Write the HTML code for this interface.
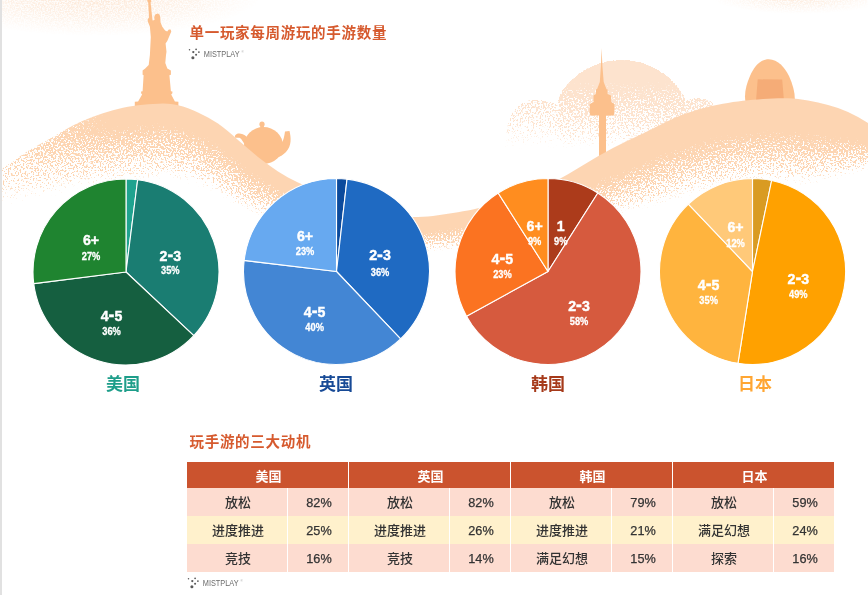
<!DOCTYPE html>
<html lang="zh-CN">
<head>
<meta charset="utf-8">
<title>单一玩家每周游玩的手游数量</title>
<style>
html,body{margin:0;padding:0;background:#fff;}
body{width:868px;height:595px;position:relative;overflow:hidden;font-family:"Liberation Sans","Noto Sans CJK SC",sans-serif;}
#bg{position:absolute;left:0;top:0;}
.bar{position:absolute;left:0;top:0;width:2px;height:595px;background:#e1e1e1;}
h1,h2{position:absolute;margin:0;font-family:"Liberation Sans","Noto Sans CJK SC",sans-serif;font-weight:700;font-size:14.5px;line-height:20px;color:#D65A2E;white-space:nowrap;letter-spacing:0.7px;}
h1{left:189.5px;top:23.4px;}
h2{left:189.5px;top:431.5px;}
.logo{position:absolute;height:16px;width:60px;}
.cn{position:absolute;width:80px;text-align:center;font-family:"Liberation Sans","Noto Sans CJK SC",sans-serif;font-weight:700;font-size:17px;line-height:24px;}
table{position:absolute;left:186px;top:462px;border-collapse:separate;border-spacing:0;table-layout:fixed;width:648px;font-family:"Liberation Sans","Noto Sans CJK SC",sans-serif;}
th{background:#CB532E;color:#fff;font-weight:700;font-size:13px;height:26px;padding:0 0 0 2px;border-left:1px solid #fff;}
td{height:26px;padding:.5px 0 1.5px;text-align:center;font-size:13px;font-weight:500;color:#333;border-left:1px solid #fff;}
td.k{width:100px;padding-left:2px;}
td.v{width:60px;font-size:12.7px;-webkit-text-stroke:.25px #333;padding:2.5px 0 0 2px;height:25.5px;}
tr.r0 td,tr.r2 td{background:#FDDCD0;}
tr.r1 td{background:#FFF1CC;}
</style>
</head>
<body>
<svg id="bg" width="868" height="595" viewBox="0 0 868 595">
<defs>
<filter id="gh" filterUnits="userSpaceOnUse" x="0" y="0" width="868" height="420" color-interpolation-filters="sRGB">
<feGaussianBlur in="SourceAlpha" stdDeviation="1.5" result="bl"/>
<feTurbulence type="fractalNoise" baseFrequency="0.6" numOctaves="2" seed="3" result="tn"/>
<feComponentTransfer in="tn" result="na"><feFuncA type="table" tableValues="0 0 0 0.002 0.006 0.017 0.045 0.102 0.198 0.336 0.5 0.664 0.802 0.898 0.955 0.983 0.994 0.998 1 1 1"/></feComponentTransfer>
<feComposite in="bl" in2="na" operator="arithmetic" k1="0" k2="1.2" k3="1" k4="-1" result="sum"/>
<feComponentTransfer in="sum" result="th0"><feFuncA type="linear" slope="5" intercept="0"/></feComponentTransfer>
<feGaussianBlur in="th0" stdDeviation="0.5" result="th"/>
<feFlood flood-color="#FDD5B2"/>
<feComposite in2="th" operator="in"/>
</filter>
<filter id="gc" filterUnits="userSpaceOnUse" x="0" y="0" width="868" height="420" color-interpolation-filters="sRGB">
<feGaussianBlur in="SourceAlpha" stdDeviation="0.6" result="bl"/>
<feTurbulence type="fractalNoise" baseFrequency="0.6" numOctaves="2" seed="7" result="tn"/>
<feComponentTransfer in="tn" result="na"><feFuncA type="table" tableValues="0 0 0 0.002 0.006 0.017 0.045 0.102 0.198 0.336 0.5 0.664 0.802 0.898 0.955 0.983 0.994 0.998 1 1 1"/></feComponentTransfer>
<feComposite in="bl" in2="na" operator="arithmetic" k1="0" k2="1.2" k3="1" k4="-1" result="sum"/>
<feComponentTransfer in="sum" result="th0"><feFuncA type="linear" slope="5" intercept="0"/></feComponentTransfer>
<feGaussianBlur in="th0" stdDeviation="0.5" result="th"/>
<feFlood flood-color="#FDE3CE"/>
<feComposite in2="th" operator="in"/>
</filter>
<filter id="gs" filterUnits="userSpaceOnUse" x="0" y="0" width="868" height="60" color-interpolation-filters="sRGB">
<feTurbulence type="fractalNoise" baseFrequency="0.7" numOctaves="2" seed="11" result="tn"/>
<feComponentTransfer in="tn" result="na"><feFuncA type="table" tableValues="0 0 0 0.002 0.006 0.017 0.045 0.102 0.198 0.336 0.5 0.664 0.802 0.898 0.955 0.983 0.994 0.998 1 1 1"/></feComponentTransfer>
<feComposite in="SourceAlpha" in2="na" operator="arithmetic" k1="1.7" k2="0.15" k3="0" k4="0" result="th"/>
<feFlood flood-color="#FBD3B2"/>
<feComposite in2="th" operator="in"/>
</filter>
<clipPath id="rc"><path d="M-12 178.0L-7 175.0L-2 171.7L3 168.3L8 164.8L13 161.2L18 157.7L23 154.3L28 151.1L33 148.1L38 145.3L43 142.5L48 139.7L53 136.9L58 134.0L63 131.1L68 128.2L73 125.5L78 123.0L83 120.8L88 118.7L93 116.8L98 115.0L103 113.3L108 111.8L113 110.3L118 109.0L123 107.8L128 106.8L133 106.0L138 105.3L143 104.7L148 104.3L153 103.9L158 103.7L163 103.6L168 103.8L173 104.3L178 105.2L183 106.6L188 108.3L193 110.3L198 112.6L203 115.0L208 117.5L213 120.4L218 123.6L223 127.3L228 131.3L233 135.6L238 139.9L243 144.2L248 148.5L253 152.8L258 156.9L263 160.8L268 164.6L273 168.1L278 171.5L283 174.6L288 177.4L293 180.0L298 182.4L303 184.7L308 186.7L313 188.6L318 190.5L323 192.2L328 194.0L333 195.6L338 197.3L343 199.0L348 200.7L353 202.4L358 204.1L363 205.8L368 207.4L373 209.0L378 210.4L383 211.8L388 213.1L393 214.2L398 215.2L403 216.0L408 216.6L413 216.9L418 217.0L423 216.8L428 216.5L433 215.9L438 215.3L443 214.6L448 213.8L453 213.1L458 212.2L463 211.3L468 210.4L473 209.4L478 208.3L483 207.2L488 206.0L493 204.7L498 203.3L503 201.8L508 200.3L513 198.7L518 197.0L523 195.2L528 193.3L533 191.3L538 189.2L543 187.0L548 184.7L553 182.3L558 179.7L563 177.0L568 174.2L573 171.3L578 168.3L583 165.2L588 162.2L593 159.2L598 156.3L603 153.4L608 150.7L613 148.1L618 145.6L623 143.1L628 140.6L633 138.2L638 135.8L643 133.4L648 131.0L653 128.5L658 126.0L663 123.5L668 121.1L673 118.7L678 116.6L683 114.6L688 112.8L693 111.2L698 109.6L703 108.3L708 107.0L713 105.8L718 104.8L723 103.8L728 102.9L733 102.1L738 101.4L743 100.8L748 100.3L753 99.8L758 99.4L763 99.0L768 98.7L773 98.4L778 98.3L783 98.2L788 98.3L793 98.6L798 99.1L803 99.8L808 100.6L813 101.5L818 102.5L823 103.7L828 105.0L833 106.4L838 108.1L843 109.9L848 112.0L853 114.4L858 117.1L863 120.0L868 123.0L873 126.2L882 132.0L882 420L-12 420Z"/></clipPath>
<linearGradient id="lf" gradientUnits="userSpaceOnUse" x1="0" y1="0" x2="110" y2="0"><stop offset="0" stop-color="#fff" stop-opacity=".32"/><stop offset="1" stop-color="#fff" stop-opacity="1"/></linearGradient>
<mask id="lm" maskUnits="userSpaceOnUse" x="-20" y="0" width="920" height="420"><rect x="-20" y="0" width="920" height="420" fill="url(#lf)"/></mask>
<linearGradient id="cg" gradientUnits="userSpaceOnUse" x1="0" y1="50" x2="0" y2="150"><stop offset="0" stop-color="#fff"/><stop offset=".3" stop-color="#fff"/><stop offset="1" stop-color="#fff" stop-opacity="0"/></linearGradient>
<mask id="cm" maskUnits="userSpaceOnUse" x="480" y="40" width="260" height="130"><rect x="480" y="40" width="260" height="130" fill="url(#cg)"/></mask>
<radialGradient id="tg" gradientUnits="userSpaceOnUse" cx="0" cy="0" r="1" gradientTransform="translate(95 -6) scale(168 42)"><stop offset="0" stop-color="#000" stop-opacity=".32"/><stop offset=".5" stop-color="#000" stop-opacity=".2"/><stop offset="1" stop-color="#000" stop-opacity="0"/></radialGradient>
<radialGradient id="tg2" gradientUnits="userSpaceOnUse" cx="0" cy="0" r="1" gradientTransform="translate(800 -4) scale(90 18)"><stop offset="0" stop-color="#000" stop-opacity=".3"/><stop offset="1" stop-color="#000" stop-opacity="0"/></radialGradient>
</defs>
<g filter="url(#gc)">
<g mask="url(#cm)"><path d="M558 150L558 106C558 101 559 97 560.5 93.5A72 72 0 0 1 682 93C684 96 685 99 685.5 101L690 150Z"/><path d="M505 150C505 118 515 100 536 100C546 100 553 102 558 106L558 150Z" fill-opacity=".68"/><path d="M685.5 101C692 97 704 97 712 102L725 150L688 150Z" fill-opacity=".8"/></g>
</g>
<g filter="url(#gs)">
<rect x="0" y="0" width="280" height="44" fill="url(#tg)"/>
<rect x="700" y="0" width="168" height="20" fill="url(#tg2)"/>
</g>
<g fill="#FCC08C">
<path d="M147.2 0L147.5 1.6L148.2 2.6L149 17.5L147.6 19.5L147.8 21.5L149.9 26.8L150.8 37L149.9 55L148.7 65L145.2 68.6L142.6 70.5L142.6 74.7L143.6 75.2L142.6 91.3L141.1 91.5L141.1 93.3L142.1 94.4L138.1 101.4L134.8 101.8L134.8 106L178.4 106L178.4 101.8L174.9 101.4L171.2 94.4L172.4 93.3L172.4 91.5L170.9 91.3L169.4 75.2L170.9 74.7L170.9 70.5L167.3 68.6L165.3 63L166 55L166.5 51.8L165.6 43.4L167.4 40.7L171.3 31.6L170.6 29.6L168.8 29.4L167.2 31.5L165.1 30.5L162.3 26.8L160.5 22.2L160.3 17L159.5 14.5L157.5 13.6L155.2 14.5L154.2 17L154.5 20L152.6 20.5L152.2 17.5L150.6 2.6L151.4 1.4L151 0Z"/>
<circle cx="262" cy="124.2" r="2.6"/><rect x="260.3" y="125" width="3.6" height="3"/><ellipse cx="263.5" cy="145.5" rx="19.5" ry="18.5"/><path d="M247 137C240 131 234 134 235 137.5C236 138.5 238 137 240 138C242 139.5 243 142 245 145Z"/><path d="M278 146C283 144 284 138 285 131.5L289.5 131C291 137 292 146 286 152C283 155 280 157 276 158Z"/>
<path d="M601.6 48L602.4 66L603.7 82L606.5 89.3L607.5 89.3L607.5 94L611 95.5L611.2 102L614.4 104L614.4 113Q614.4 115.5 612 115.5L606 115.5L606 158L599 158L599 115.5L592 115.5Q589.7 115.5 589.7 113L589.7 104L593.5 102L593.5 95.5L596 94L596 89.3L597 89.3L599.8 82L600.9 66Z"/>
<path d="M745.4 101C744 93 746.5 84 750 76C754 67 760 59.3 768.8 59.3C778 59.3 785 68 789 76C793 85 795.2 93 794.8 101Z"/><path d="M757.7 79.3L782.2 79.6L784 101L756 101Z" fill="#F5AC77"/>
</g>
<g clip-path="url(#rc)"><g filter="url(#gh)"><g mask="url(#lm)">
<path d="M-12 174.0L-7 171.0L-2 167.7L3 164.3L8 160.8L13 157.2L18 153.7L23 150.3L28 147.1L33 144.1L38 141.3L43 138.5L48 135.7L53 132.9L58 130.0L63 127.1L68 124.2L73 121.5L78 119.0L83 116.8L88 114.7L93 112.8L98 111.0L103 109.3L108 107.8L113 106.3L118 105.0L123 103.8L128 102.8L133 102.0L138 101.3L143 100.7L148 100.3L153 99.9L158 99.7L163 99.6L168 99.8L173 100.3L178 101.2L183 102.6L188 104.3L193 106.3L198 108.6L203 111.0L208 113.5L213 116.4L218 119.6L223 123.3L228 127.3L233 131.6L238 135.9L243 140.2L248 144.5L253 148.8L258 152.9L263 156.8L268 160.6L273 164.1L278 167.5L283 170.6L288 173.4L293 176.0L298 178.4L303 180.7L308 182.7L313 184.6L318 186.5L323 188.2L328 190.0L333 191.6L338 193.3L343 195.0L348 196.7L353 198.4L358 200.1L363 201.8L368 203.4L373 205.0L378 206.4L383 207.8L388 209.1L393 210.2L398 211.2L403 212.0L408 212.6L413 212.9L418 213.0L423 212.8L428 212.5L433 211.9L438 211.3L443 210.6L448 209.8L453 209.1L458 208.2L463 207.3L468 206.4L473 205.4L478 204.3L483 203.2L488 202.0L493 200.7L498 199.3L503 197.8L508 196.3L513 194.7L518 193.0L523 191.2L528 189.3L533 187.3L538 185.2L543 183.0L548 180.7L553 178.3L558 175.7L563 173.0L568 170.2L573 167.3L578 164.3L583 161.2L588 158.2L593 155.2L598 152.3L603 149.4L608 146.7L613 144.1L618 141.6L623 139.1L628 136.6L633 134.2L638 131.8L643 129.4L648 127.0L653 124.5L658 122.0L663 119.5L668 117.1L673 114.7L678 112.6L683 110.6L688 108.8L693 107.2L698 105.6L703 104.3L708 103.0L713 101.8L718 100.8L723 99.8L728 98.9L733 98.1L738 97.4L743 96.8L748 96.3L753 95.8L758 95.4L763 95.0L768 94.7L773 94.4L778 94.3L783 94.2L788 94.3L793 94.6L798 95.1L803 95.8L808 96.6L813 97.5L818 98.5L823 99.7L828 101.0L833 102.4L838 104.1L843 105.9L848 108.0L853 110.4L858 113.1L863 116.0L868 119.0L873 122.2L882 128.0L882 172.0L873 171.1L868 171.0L863 171.4L858 172.4L853 173.8L848 175.5L843 177.1L838 178.5L833 179.4L828 180.4L823 181.5L818 182.6L813 183.5L808 184.2L803 184.4L798 184.1L793 183.6L788 183.3L783 183.2L778 183.2L773 183.4L768 183.6L763 183.9L758 184.2L753 184.6L748 185.0L743 185.5L738 186.1L733 186.7L728 187.4L723 188.2L718 189.1L713 190.1L708 191.2L703 192.3L698 193.6L693 194.9L688 196.1L683 197.4L678 198.8L673 200.2L668 201.7L663 203.3L658 204.8L653 206.3L648 207.7L643 209.0L638 210.2L633 211.4L628 212.7L623 213.9L618 215.2L613 216.6L608 218.2L603 219.8L598 221.7L593 223.6L588 225.6L583 227.5L578 229.5L573 231.4L568 233.2L563 235.0L558 236.5L553 238.0L548 239.3L543 240.5L538 241.6L533 242.6L528 243.5L523 244.3L518 244.9L513 245.3L508 245.6L503 245.8L498 246.0L493 246.2L488 246.4L483 246.6L478 247.0L473 247.5L468 248.0L463 248.6L458 249.1L453 249.5L448 250.0L443 250.4L438 250.8L433 251.2L428 251.6L423 251.9L418 252.0L413 251.9L408 251.6L403 251.1L398 250.3L393 249.4L388 248.4L383 247.2L378 245.9L373 244.6L368 243.2L363 241.7L358 240.2L353 238.7L348 237.3L343 235.9L338 234.6L333 233.4L328 232.2L323 231.1L318 229.9L313 228.8L308 227.5L303 226.2L298 224.8L293 223.6L288 222.5L283 221.4L278 220.4L273 219.3L268 218.1L263 216.7L258 215.2L253 213.3L248 211.2L243 208.8L238 206.0L233 203.0L228 199.6L223 196.4L218 193.5L213 191.0L208 188.9L203 187.0L198 185.3L193 183.7L188 182.2L183 181.0L178 180.1L173 179.6L168 179.4L163 179.4L158 179.6L153 179.9L148 180.2L143 180.4L138 180.6L133 180.8L128 181.1L123 181.4L118 181.9L113 182.4L108 183.1L103 183.8L98 184.7L93 185.6L88 186.5L83 187.5L78 188.6L73 189.8L68 191.2L63 192.7L58 194.2L53 195.7L48 197.1L43 198.2L38 199.1L33 200.0L28 200.9L23 202.0L18 203.4L13 205.0L8 206.9L3 209.0L-2 211.3L-7 213.7L-12 216.0Z" fill-opacity="0.071"/>
<path d="M-12 174.0L-7 171.0L-2 167.7L3 164.3L8 160.8L13 157.2L18 153.7L23 150.3L28 147.1L33 144.1L38 141.3L43 138.5L48 135.7L53 132.9L58 130.0L63 127.1L68 124.2L73 121.5L78 119.0L83 116.8L88 114.7L93 112.8L98 111.0L103 109.3L108 107.8L113 106.3L118 105.0L123 103.8L128 102.8L133 102.0L138 101.3L143 100.7L148 100.3L153 99.9L158 99.7L163 99.6L168 99.8L173 100.3L178 101.2L183 102.6L188 104.3L193 106.3L198 108.6L203 111.0L208 113.5L213 116.4L218 119.6L223 123.3L228 127.3L233 131.6L238 135.9L243 140.2L248 144.5L253 148.8L258 152.9L263 156.8L268 160.6L273 164.1L278 167.5L283 170.6L288 173.4L293 176.0L298 178.4L303 180.7L308 182.7L313 184.6L318 186.5L323 188.2L328 190.0L333 191.6L338 193.3L343 195.0L348 196.7L353 198.4L358 200.1L363 201.8L368 203.4L373 205.0L378 206.4L383 207.8L388 209.1L393 210.2L398 211.2L403 212.0L408 212.6L413 212.9L418 213.0L423 212.8L428 212.5L433 211.9L438 211.3L443 210.6L448 209.8L453 209.1L458 208.2L463 207.3L468 206.4L473 205.4L478 204.3L483 203.2L488 202.0L493 200.7L498 199.3L503 197.8L508 196.3L513 194.7L518 193.0L523 191.2L528 189.3L533 187.3L538 185.2L543 183.0L548 180.7L553 178.3L558 175.7L563 173.0L568 170.2L573 167.3L578 164.3L583 161.2L588 158.2L593 155.2L598 152.3L603 149.4L608 146.7L613 144.1L618 141.6L623 139.1L628 136.6L633 134.2L638 131.8L643 129.4L648 127.0L653 124.5L658 122.0L663 119.5L668 117.1L673 114.7L678 112.6L683 110.6L688 108.8L693 107.2L698 105.6L703 104.3L708 103.0L713 101.8L718 100.8L723 99.8L728 98.9L733 98.1L738 97.4L743 96.8L748 96.3L753 95.8L758 95.4L763 95.0L768 94.7L773 94.4L778 94.3L783 94.2L788 94.3L793 94.6L798 95.1L803 95.8L808 96.6L813 97.5L818 98.5L823 99.7L828 101.0L833 102.4L838 104.1L843 105.9L848 108.0L853 110.4L858 113.1L863 116.0L868 119.0L873 122.2L882 128.0L882 170.1L873 169.0L868 168.8L863 169.0L858 169.9L853 171.1L848 172.6L843 174.1L838 175.3L833 176.1L828 176.9L823 177.9L818 178.9L813 179.7L808 180.2L803 180.4L798 180.1L793 179.6L788 179.3L783 179.2L778 179.2L773 179.4L768 179.6L763 179.9L758 180.2L753 180.6L748 181.0L743 181.5L738 182.1L733 182.7L728 183.4L723 184.2L718 185.1L713 186.1L708 187.2L703 188.3L698 189.6L693 190.9L688 192.2L683 193.5L678 194.9L673 196.4L668 197.9L663 199.5L658 201.0L653 202.5L648 204.0L643 205.4L638 206.7L633 207.9L628 209.2L623 210.5L618 211.9L613 213.4L608 215.0L603 216.7L598 218.6L593 220.5L588 222.5L583 224.6L578 226.6L573 228.5L568 230.4L563 232.2L558 233.8L553 235.4L548 236.7L543 238.0L538 239.2L533 240.2L528 241.2L523 242.0L518 242.6L513 243.1L508 243.5L503 243.8L498 244.1L493 244.3L488 244.5L483 244.9L478 245.2L473 245.8L468 246.4L463 246.9L458 247.4L453 247.9L448 248.3L443 248.8L438 249.2L433 249.7L428 250.0L423 250.3L418 250.4L413 250.3L408 250.0L403 249.5L398 248.7L393 247.8L388 246.7L383 245.6L378 244.3L373 242.9L368 241.5L363 240.0L358 238.5L353 237.0L348 235.5L343 234.1L338 232.8L333 231.6L328 230.4L323 229.2L318 228.0L313 226.7L308 225.5L303 224.1L298 222.6L293 221.3L288 220.1L283 219.0L278 217.8L273 216.6L268 215.3L263 213.8L258 212.1L253 210.2L248 207.9L243 205.4L238 202.6L233 199.5L228 196.0L223 192.7L218 189.8L213 187.3L208 185.1L203 183.2L198 181.4L193 179.7L188 178.2L183 176.9L178 175.9L173 175.4L168 175.1L163 175.2L158 175.4L153 175.7L148 175.9L143 176.2L138 176.3L133 176.6L128 176.8L123 177.2L118 177.6L113 178.2L108 178.9L103 179.7L98 180.6L93 181.5L88 182.4L83 183.4L78 184.5L73 185.8L68 187.2L63 188.7L58 190.3L53 191.8L48 193.3L43 194.5L38 195.5L33 196.4L28 197.4L23 198.7L18 200.2L13 201.9L8 203.9L3 206.1L-2 208.5L-7 210.9L-12 213.3Z" fill-opacity="0.077"/>
<path d="M-12 174.0L-7 171.0L-2 167.7L3 164.3L8 160.8L13 157.2L18 153.7L23 150.3L28 147.1L33 144.1L38 141.3L43 138.5L48 135.7L53 132.9L58 130.0L63 127.1L68 124.2L73 121.5L78 119.0L83 116.8L88 114.7L93 112.8L98 111.0L103 109.3L108 107.8L113 106.3L118 105.0L123 103.8L128 102.8L133 102.0L138 101.3L143 100.7L148 100.3L153 99.9L158 99.7L163 99.6L168 99.8L173 100.3L178 101.2L183 102.6L188 104.3L193 106.3L198 108.6L203 111.0L208 113.5L213 116.4L218 119.6L223 123.3L228 127.3L233 131.6L238 135.9L243 140.2L248 144.5L253 148.8L258 152.9L263 156.8L268 160.6L273 164.1L278 167.5L283 170.6L288 173.4L293 176.0L298 178.4L303 180.7L308 182.7L313 184.6L318 186.5L323 188.2L328 190.0L333 191.6L338 193.3L343 195.0L348 196.7L353 198.4L358 200.1L363 201.8L368 203.4L373 205.0L378 206.4L383 207.8L388 209.1L393 210.2L398 211.2L403 212.0L408 212.6L413 212.9L418 213.0L423 212.8L428 212.5L433 211.9L438 211.3L443 210.6L448 209.8L453 209.1L458 208.2L463 207.3L468 206.4L473 205.4L478 204.3L483 203.2L488 202.0L493 200.7L498 199.3L503 197.8L508 196.3L513 194.7L518 193.0L523 191.2L528 189.3L533 187.3L538 185.2L543 183.0L548 180.7L553 178.3L558 175.7L563 173.0L568 170.2L573 167.3L578 164.3L583 161.2L588 158.2L593 155.2L598 152.3L603 149.4L608 146.7L613 144.1L618 141.6L623 139.1L628 136.6L633 134.2L638 131.8L643 129.4L648 127.0L653 124.5L658 122.0L663 119.5L668 117.1L673 114.7L678 112.6L683 110.6L688 108.8L693 107.2L698 105.6L703 104.3L708 103.0L713 101.8L718 100.8L723 99.8L728 98.9L733 98.1L738 97.4L743 96.8L748 96.3L753 95.8L758 95.4L763 95.0L768 94.7L773 94.4L778 94.3L783 94.2L788 94.3L793 94.6L798 95.1L803 95.8L808 96.6L813 97.5L818 98.5L823 99.7L828 101.0L833 102.4L838 104.1L843 105.9L848 108.0L853 110.4L858 113.1L863 116.0L868 119.0L873 122.2L882 128.0L882 168.3L873 167.0L868 166.6L863 166.7L858 167.4L853 168.4L848 169.7L843 171.0L838 172.1L833 172.7L828 173.5L823 174.3L818 175.2L813 175.9L808 176.3L803 176.4L798 176.1L793 175.6L788 175.3L783 175.2L778 175.2L773 175.4L768 175.6L763 175.9L758 176.2L753 176.6L748 177.0L743 177.5L738 178.1L733 178.7L728 179.4L723 180.2L718 181.1L713 182.1L708 183.2L703 184.3L698 185.6L693 186.9L688 188.2L683 189.5L678 191.0L673 192.5L668 194.0L663 195.6L658 197.3L653 198.8L648 200.3L643 201.7L638 203.1L633 204.4L628 205.8L623 207.2L618 208.6L613 210.1L608 211.7L603 213.5L598 215.5L593 217.5L588 219.5L583 221.6L578 223.7L573 225.7L568 227.6L563 229.4L558 231.1L553 232.7L548 234.1L543 235.5L538 236.7L533 237.8L528 238.8L523 239.7L518 240.4L513 241.0L508 241.4L503 241.8L498 242.1L493 242.4L488 242.7L483 243.1L478 243.5L473 244.0L468 244.7L463 245.2L458 245.8L453 246.2L448 246.7L443 247.2L438 247.6L433 248.1L428 248.5L423 248.7L418 248.9L413 248.8L408 248.4L403 247.9L398 247.1L393 246.2L388 245.1L383 243.9L378 242.6L373 241.2L368 239.8L363 238.3L358 236.8L353 235.2L348 233.8L343 232.4L338 231.0L333 229.7L328 228.5L323 227.2L318 226.0L313 224.7L308 223.4L303 222.0L298 220.5L293 219.1L288 217.8L283 216.6L278 215.3L273 214.0L268 212.5L263 210.9L258 209.1L253 207.0L248 204.7L243 202.0L238 199.1L233 195.9L228 192.4L223 189.1L218 186.1L213 183.5L208 181.3L203 179.3L198 177.4L193 175.7L188 174.1L183 172.8L178 171.8L173 171.2L168 170.9L163 170.9L158 171.1L153 171.4L148 171.6L143 171.9L138 172.1L133 172.3L128 172.6L123 172.9L118 173.4L113 174.0L108 174.7L103 175.5L98 176.4L93 177.3L88 178.3L83 179.3L78 180.4L73 181.8L68 183.2L63 184.8L58 186.3L53 187.9L48 189.4L43 190.7L38 191.8L33 192.9L28 194.0L23 195.4L18 197.0L13 198.8L8 200.9L3 203.2L-2 205.7L-7 208.2L-12 210.6Z" fill-opacity="0.083"/>
<path d="M-12 174.0L-7 171.0L-2 167.7L3 164.3L8 160.8L13 157.2L18 153.7L23 150.3L28 147.1L33 144.1L38 141.3L43 138.5L48 135.7L53 132.9L58 130.0L63 127.1L68 124.2L73 121.5L78 119.0L83 116.8L88 114.7L93 112.8L98 111.0L103 109.3L108 107.8L113 106.3L118 105.0L123 103.8L128 102.8L133 102.0L138 101.3L143 100.7L148 100.3L153 99.9L158 99.7L163 99.6L168 99.8L173 100.3L178 101.2L183 102.6L188 104.3L193 106.3L198 108.6L203 111.0L208 113.5L213 116.4L218 119.6L223 123.3L228 127.3L233 131.6L238 135.9L243 140.2L248 144.5L253 148.8L258 152.9L263 156.8L268 160.6L273 164.1L278 167.5L283 170.6L288 173.4L293 176.0L298 178.4L303 180.7L308 182.7L313 184.6L318 186.5L323 188.2L328 190.0L333 191.6L338 193.3L343 195.0L348 196.7L353 198.4L358 200.1L363 201.8L368 203.4L373 205.0L378 206.4L383 207.8L388 209.1L393 210.2L398 211.2L403 212.0L408 212.6L413 212.9L418 213.0L423 212.8L428 212.5L433 211.9L438 211.3L443 210.6L448 209.8L453 209.1L458 208.2L463 207.3L468 206.4L473 205.4L478 204.3L483 203.2L488 202.0L493 200.7L498 199.3L503 197.8L508 196.3L513 194.7L518 193.0L523 191.2L528 189.3L533 187.3L538 185.2L543 183.0L548 180.7L553 178.3L558 175.7L563 173.0L568 170.2L573 167.3L578 164.3L583 161.2L588 158.2L593 155.2L598 152.3L603 149.4L608 146.7L613 144.1L618 141.6L623 139.1L628 136.6L633 134.2L638 131.8L643 129.4L648 127.0L653 124.5L658 122.0L663 119.5L668 117.1L673 114.7L678 112.6L683 110.6L688 108.8L693 107.2L698 105.6L703 104.3L708 103.0L713 101.8L718 100.8L723 99.8L728 98.9L733 98.1L738 97.4L743 96.8L748 96.3L753 95.8L758 95.4L763 95.0L768 94.7L773 94.4L778 94.3L783 94.2L788 94.3L793 94.6L798 95.1L803 95.8L808 96.6L813 97.5L818 98.5L823 99.7L828 101.0L833 102.4L838 104.1L843 105.9L848 108.0L853 110.4L858 113.1L863 116.0L868 119.0L873 122.2L882 128.0L882 166.4L873 164.9L868 164.4L863 164.3L858 164.8L853 165.7L848 166.8L843 168.0L838 168.9L833 169.4L828 170.0L823 170.7L818 171.5L813 172.0L808 172.4L803 172.4L798 172.1L793 171.6L788 171.3L783 171.2L778 171.2L773 171.4L768 171.6L763 171.9L758 172.2L753 172.6L748 173.0L743 173.5L738 174.0L733 174.7L728 175.4L723 176.2L718 177.1L713 178.1L708 179.2L703 180.3L698 181.6L693 182.9L688 184.2L683 185.6L678 187.0L673 188.6L668 190.2L663 191.8L658 193.5L653 195.1L648 196.7L643 198.1L638 199.6L633 201.0L628 202.4L623 203.8L618 205.3L613 206.8L608 208.5L603 210.4L598 212.3L593 214.4L588 216.5L583 218.6L578 220.8L573 222.8L568 224.8L563 226.7L558 228.4L553 230.1L548 231.6L543 232.9L538 234.2L533 235.4L528 236.4L523 237.4L518 238.1L513 238.8L508 239.3L503 239.7L498 240.1L493 240.5L488 240.9L483 241.3L478 241.8L473 242.3L468 243.0L463 243.5L458 244.1L453 244.6L448 245.1L443 245.6L438 246.1L433 246.5L428 246.9L423 247.2L418 247.3L413 247.2L408 246.8L403 246.3L398 245.5L393 244.6L388 243.5L383 242.3L378 240.9L373 239.6L368 238.1L363 236.6L358 235.0L353 233.5L348 232.0L343 230.6L338 229.2L333 227.9L328 226.6L323 225.3L318 224.0L313 222.7L308 221.3L303 219.9L298 218.3L293 216.8L288 215.5L283 214.1L278 212.8L273 211.3L268 209.8L263 208.0L258 206.1L253 203.9L248 201.4L243 198.7L238 195.7L233 192.4L228 188.9L223 185.4L218 182.4L213 179.7L208 177.4L203 175.4L198 173.5L193 171.7L188 170.1L183 168.7L178 167.7L173 167.0L168 166.7L163 166.7L158 166.8L153 167.1L148 167.3L143 167.6L138 167.8L133 168.0L128 168.3L123 168.7L118 169.2L113 169.8L108 170.5L103 171.4L98 172.3L93 173.2L88 174.2L83 175.2L78 176.4L73 177.7L68 179.2L63 180.8L58 182.4L53 184.0L48 185.6L43 187.0L38 188.2L33 189.3L28 190.6L23 192.0L18 193.7L13 195.7L8 197.9L3 200.3L-2 202.8L-7 205.4L-12 207.9Z" fill-opacity="0.091"/>
<path d="M-12 174.0L-7 171.0L-2 167.7L3 164.3L8 160.8L13 157.2L18 153.7L23 150.3L28 147.1L33 144.1L38 141.3L43 138.5L48 135.7L53 132.9L58 130.0L63 127.1L68 124.2L73 121.5L78 119.0L83 116.8L88 114.7L93 112.8L98 111.0L103 109.3L108 107.8L113 106.3L118 105.0L123 103.8L128 102.8L133 102.0L138 101.3L143 100.7L148 100.3L153 99.9L158 99.7L163 99.6L168 99.8L173 100.3L178 101.2L183 102.6L188 104.3L193 106.3L198 108.6L203 111.0L208 113.5L213 116.4L218 119.6L223 123.3L228 127.3L233 131.6L238 135.9L243 140.2L248 144.5L253 148.8L258 152.9L263 156.8L268 160.6L273 164.1L278 167.5L283 170.6L288 173.4L293 176.0L298 178.4L303 180.7L308 182.7L313 184.6L318 186.5L323 188.2L328 190.0L333 191.6L338 193.3L343 195.0L348 196.7L353 198.4L358 200.1L363 201.8L368 203.4L373 205.0L378 206.4L383 207.8L388 209.1L393 210.2L398 211.2L403 212.0L408 212.6L413 212.9L418 213.0L423 212.8L428 212.5L433 211.9L438 211.3L443 210.6L448 209.8L453 209.1L458 208.2L463 207.3L468 206.4L473 205.4L478 204.3L483 203.2L488 202.0L493 200.7L498 199.3L503 197.8L508 196.3L513 194.7L518 193.0L523 191.2L528 189.3L533 187.3L538 185.2L543 183.0L548 180.7L553 178.3L558 175.7L563 173.0L568 170.2L573 167.3L578 164.3L583 161.2L588 158.2L593 155.2L598 152.3L603 149.4L608 146.7L613 144.1L618 141.6L623 139.1L628 136.6L633 134.2L638 131.8L643 129.4L648 127.0L653 124.5L658 122.0L663 119.5L668 117.1L673 114.7L678 112.6L683 110.6L688 108.8L693 107.2L698 105.6L703 104.3L708 103.0L713 101.8L718 100.8L723 99.8L728 98.9L733 98.1L738 97.4L743 96.8L748 96.3L753 95.8L758 95.4L763 95.0L768 94.7L773 94.4L778 94.3L783 94.2L788 94.3L793 94.6L798 95.1L803 95.8L808 96.6L813 97.5L818 98.5L823 99.7L828 101.0L833 102.4L838 104.1L843 105.9L848 108.0L853 110.4L858 113.1L863 116.0L868 119.0L873 122.2L882 128.0L882 164.6L873 162.8L868 162.1L863 161.9L858 162.3L853 163.0L848 163.9L843 164.9L838 165.7L833 166.1L828 166.5L823 167.1L818 167.7L813 168.2L808 168.5L803 168.5L798 168.1L793 167.6L788 167.3L783 167.2L778 167.2L773 167.4L768 167.6L763 167.9L758 168.2L753 168.6L748 169.0L743 169.5L738 170.0L733 170.7L728 171.4L723 172.2L718 173.1L713 174.1L708 175.2L703 176.3L698 177.6L693 178.9L688 180.2L683 181.6L678 183.1L673 184.7L668 186.3L663 188.0L658 189.7L653 191.4L648 193.0L643 194.5L638 196.0L633 197.5L628 198.9L623 200.4L618 201.9L613 203.6L608 205.3L603 207.2L598 209.2L593 211.3L588 213.5L583 215.7L578 217.8L573 220.0L568 222.0L563 223.9L558 225.7L553 227.4L548 229.0L543 230.4L538 231.7L533 232.9L528 234.1L523 235.1L518 235.9L513 236.6L508 237.2L503 237.7L498 238.2L493 238.6L488 239.0L483 239.5L478 240.0L473 240.6L468 241.3L463 241.9L458 242.4L453 243.0L448 243.5L443 244.0L438 244.5L433 244.9L428 245.3L423 245.6L418 245.7L413 245.6L408 245.2L403 244.7L398 243.9L393 242.9L388 241.8L383 240.6L378 239.3L373 237.9L368 236.4L363 234.9L358 233.3L353 231.8L348 230.3L343 228.8L338 227.4L333 226.0L328 224.7L323 223.4L318 222.1L313 220.7L308 219.3L303 217.8L298 216.1L293 214.6L288 213.1L283 211.7L278 210.2L273 208.7L268 207.0L263 205.1L258 203.0L253 200.7L248 198.1L243 195.3L238 192.2L233 188.9L228 185.3L223 181.8L218 178.6L213 176.0L208 173.6L203 171.5L198 169.5L193 167.7L188 166.0L183 164.6L178 163.5L173 162.9L168 162.5L163 162.4L158 162.6L153 162.8L148 163.1L143 163.3L138 163.5L133 163.7L128 164.0L123 164.4L118 165.0L113 165.6L108 166.4L103 167.2L98 168.1L93 169.1L88 170.1L83 171.1L78 172.3L73 173.7L68 175.2L63 176.8L58 178.5L53 180.1L48 181.8L43 183.2L38 184.5L33 185.8L28 187.1L23 188.7L18 190.5L13 192.6L8 194.9L3 197.4L-2 200.0L-7 202.6L-12 205.1Z" fill-opacity="0.100"/>
<path d="M-12 174.0L-7 171.0L-2 167.7L3 164.3L8 160.8L13 157.2L18 153.7L23 150.3L28 147.1L33 144.1L38 141.3L43 138.5L48 135.7L53 132.9L58 130.0L63 127.1L68 124.2L73 121.5L78 119.0L83 116.8L88 114.7L93 112.8L98 111.0L103 109.3L108 107.8L113 106.3L118 105.0L123 103.8L128 102.8L133 102.0L138 101.3L143 100.7L148 100.3L153 99.9L158 99.7L163 99.6L168 99.8L173 100.3L178 101.2L183 102.6L188 104.3L193 106.3L198 108.6L203 111.0L208 113.5L213 116.4L218 119.6L223 123.3L228 127.3L233 131.6L238 135.9L243 140.2L248 144.5L253 148.8L258 152.9L263 156.8L268 160.6L273 164.1L278 167.5L283 170.6L288 173.4L293 176.0L298 178.4L303 180.7L308 182.7L313 184.6L318 186.5L323 188.2L328 190.0L333 191.6L338 193.3L343 195.0L348 196.7L353 198.4L358 200.1L363 201.8L368 203.4L373 205.0L378 206.4L383 207.8L388 209.1L393 210.2L398 211.2L403 212.0L408 212.6L413 212.9L418 213.0L423 212.8L428 212.5L433 211.9L438 211.3L443 210.6L448 209.8L453 209.1L458 208.2L463 207.3L468 206.4L473 205.4L478 204.3L483 203.2L488 202.0L493 200.7L498 199.3L503 197.8L508 196.3L513 194.7L518 193.0L523 191.2L528 189.3L533 187.3L538 185.2L543 183.0L548 180.7L553 178.3L558 175.7L563 173.0L568 170.2L573 167.3L578 164.3L583 161.2L588 158.2L593 155.2L598 152.3L603 149.4L608 146.7L613 144.1L618 141.6L623 139.1L628 136.6L633 134.2L638 131.8L643 129.4L648 127.0L653 124.5L658 122.0L663 119.5L668 117.1L673 114.7L678 112.6L683 110.6L688 108.8L693 107.2L698 105.6L703 104.3L708 103.0L713 101.8L718 100.8L723 99.8L728 98.9L733 98.1L738 97.4L743 96.8L748 96.3L753 95.8L758 95.4L763 95.0L768 94.7L773 94.4L778 94.3L783 94.2L788 94.3L793 94.6L798 95.1L803 95.8L808 96.6L813 97.5L818 98.5L823 99.7L828 101.0L833 102.4L838 104.1L843 105.9L848 108.0L853 110.4L858 113.1L863 116.0L868 119.0L873 122.2L882 128.0L882 162.7L873 160.7L868 159.9L863 159.6L858 159.8L853 160.3L848 161.1L843 161.9L838 162.5L833 162.7L828 163.1L823 163.5L818 164.0L813 164.4L808 164.6L803 164.5L798 164.1L793 163.6L788 163.3L783 163.2L778 163.2L773 163.4L768 163.6L763 163.9L758 164.2L753 164.6L748 165.0L743 165.5L738 166.0L733 166.7L728 167.4L723 168.2L718 169.1L713 170.1L708 171.2L703 172.3L698 173.6L693 174.9L688 176.3L683 177.7L678 179.2L673 180.8L668 182.5L663 184.2L658 186.0L653 187.7L648 189.3L643 190.9L638 192.5L633 194.0L628 195.5L623 197.0L618 198.6L613 200.3L608 202.1L603 204.0L598 206.1L593 208.3L588 210.5L583 212.7L578 214.9L573 217.1L568 219.2L563 221.2L558 223.0L553 224.8L548 226.4L543 227.9L538 229.2L533 230.5L528 231.7L523 232.8L518 233.7L513 234.4L508 235.1L503 235.7L498 236.2L493 236.7L488 237.2L483 237.7L478 238.3L473 238.9L468 239.6L463 240.2L458 240.8L453 241.3L448 241.9L443 242.4L438 242.9L433 243.4L428 243.8L423 244.0L418 244.1L413 244.0L408 243.7L403 243.1L398 242.3L393 241.3L388 240.2L383 239.0L378 237.6L373 236.2L368 234.7L363 233.2L358 231.6L353 230.0L348 228.5L343 227.0L338 225.6L333 224.2L328 222.8L323 221.5L318 220.1L313 218.7L308 217.2L303 215.6L298 214.0L293 212.4L288 210.8L283 209.3L278 207.7L273 206.0L268 204.2L263 202.2L258 200.0L253 197.6L248 194.9L243 192.0L238 188.8L233 185.3L228 181.7L223 178.1L218 174.9L213 172.2L208 169.8L203 167.6L198 165.6L193 163.7L188 162.0L183 160.5L178 159.4L173 158.7L168 158.3L163 158.2L158 158.3L153 158.5L148 158.8L143 159.0L138 159.2L133 159.4L128 159.8L123 160.2L118 160.8L113 161.4L108 162.2L103 163.0L98 164.0L93 165.0L88 166.0L83 167.0L78 168.2L73 169.6L68 171.1L63 172.8L58 174.5L53 176.2L48 177.9L43 179.5L38 180.8L33 182.2L28 183.7L23 185.4L18 187.3L13 189.5L8 191.9L3 194.5L-2 197.2L-7 199.9L-12 202.4Z" fill-opacity="0.111"/>
<path d="M-12 174.0L-7 171.0L-2 167.7L3 164.3L8 160.8L13 157.2L18 153.7L23 150.3L28 147.1L33 144.1L38 141.3L43 138.5L48 135.7L53 132.9L58 130.0L63 127.1L68 124.2L73 121.5L78 119.0L83 116.8L88 114.7L93 112.8L98 111.0L103 109.3L108 107.8L113 106.3L118 105.0L123 103.8L128 102.8L133 102.0L138 101.3L143 100.7L148 100.3L153 99.9L158 99.7L163 99.6L168 99.8L173 100.3L178 101.2L183 102.6L188 104.3L193 106.3L198 108.6L203 111.0L208 113.5L213 116.4L218 119.6L223 123.3L228 127.3L233 131.6L238 135.9L243 140.2L248 144.5L253 148.8L258 152.9L263 156.8L268 160.6L273 164.1L278 167.5L283 170.6L288 173.4L293 176.0L298 178.4L303 180.7L308 182.7L313 184.6L318 186.5L323 188.2L328 190.0L333 191.6L338 193.3L343 195.0L348 196.7L353 198.4L358 200.1L363 201.8L368 203.4L373 205.0L378 206.4L383 207.8L388 209.1L393 210.2L398 211.2L403 212.0L408 212.6L413 212.9L418 213.0L423 212.8L428 212.5L433 211.9L438 211.3L443 210.6L448 209.8L453 209.1L458 208.2L463 207.3L468 206.4L473 205.4L478 204.3L483 203.2L488 202.0L493 200.7L498 199.3L503 197.8L508 196.3L513 194.7L518 193.0L523 191.2L528 189.3L533 187.3L538 185.2L543 183.0L548 180.7L553 178.3L558 175.7L563 173.0L568 170.2L573 167.3L578 164.3L583 161.2L588 158.2L593 155.2L598 152.3L603 149.4L608 146.7L613 144.1L618 141.6L623 139.1L628 136.6L633 134.2L638 131.8L643 129.4L648 127.0L653 124.5L658 122.0L663 119.5L668 117.1L673 114.7L678 112.6L683 110.6L688 108.8L693 107.2L698 105.6L703 104.3L708 103.0L713 101.8L718 100.8L723 99.8L728 98.9L733 98.1L738 97.4L743 96.8L748 96.3L753 95.8L758 95.4L763 95.0L768 94.7L773 94.4L778 94.3L783 94.2L788 94.3L793 94.6L798 95.1L803 95.8L808 96.6L813 97.5L818 98.5L823 99.7L828 101.0L833 102.4L838 104.1L843 105.9L848 108.0L853 110.4L858 113.1L863 116.0L868 119.0L873 122.2L882 128.0L882 160.9L873 158.7L868 157.7L863 157.2L858 157.2L853 157.6L848 158.2L843 158.8L838 159.3L833 159.4L828 159.6L823 159.9L818 160.3L813 160.5L808 160.6L803 160.5L798 160.1L793 159.6L788 159.3L783 159.2L778 159.2L773 159.3L768 159.6L763 159.9L758 160.2L753 160.6L748 161.0L743 161.5L738 162.0L733 162.7L728 163.4L723 164.2L718 165.1L713 166.1L708 167.2L703 168.3L698 169.6L693 170.9L688 172.3L683 173.7L678 175.2L673 176.9L668 178.6L663 180.4L658 182.2L653 184.0L648 185.7L643 187.3L638 188.9L633 190.5L628 192.0L623 193.6L618 195.3L613 197.0L608 198.9L603 200.9L598 203.0L593 205.2L588 207.5L583 209.7L578 212.0L573 214.2L568 216.4L563 218.4L558 220.3L553 222.1L548 223.8L543 225.3L538 226.8L533 228.1L528 229.3L523 230.4L518 231.4L513 232.2L508 233.0L503 233.6L498 234.2L493 234.8L488 235.3L483 235.9L478 236.5L473 237.2L468 237.9L463 238.5L458 239.1L453 239.7L448 240.3L443 240.8L438 241.3L433 241.8L428 242.2L423 242.5L418 242.6L413 242.4L408 242.1L403 241.5L398 240.7L393 239.7L388 238.6L383 237.3L378 235.9L373 234.5L368 233.0L363 231.5L358 229.9L353 228.3L348 226.8L343 225.2L338 223.8L333 222.4L328 221.0L323 219.6L318 218.2L313 216.7L308 215.2L303 213.5L298 211.8L293 210.1L288 208.5L283 206.9L278 205.2L273 203.4L268 201.4L263 199.3L258 197.0L253 194.4L248 191.6L243 188.6L238 185.3L233 181.8L228 178.1L223 174.5L218 171.2L213 168.4L208 165.9L203 163.7L198 161.7L193 159.7L188 157.9L183 156.4L178 155.3L173 154.5L168 154.1L163 154.0L158 154.0L153 154.2L148 154.5L143 154.7L138 154.9L133 155.2L128 155.5L123 156.0L118 156.5L113 157.2L108 158.0L103 158.9L98 159.9L93 160.9L88 161.9L83 163.0L78 164.2L73 165.6L68 167.1L63 168.8L58 170.6L53 172.4L48 174.1L43 175.7L38 177.2L33 178.7L28 180.3L23 182.1L18 184.1L13 186.4L8 188.9L3 191.6L-2 194.4L-7 197.1L-12 199.7Z" fill-opacity="0.125"/>
<path d="M-12 174.0L-7 171.0L-2 167.7L3 164.3L8 160.8L13 157.2L18 153.7L23 150.3L28 147.1L33 144.1L38 141.3L43 138.5L48 135.7L53 132.9L58 130.0L63 127.1L68 124.2L73 121.5L78 119.0L83 116.8L88 114.7L93 112.8L98 111.0L103 109.3L108 107.8L113 106.3L118 105.0L123 103.8L128 102.8L133 102.0L138 101.3L143 100.7L148 100.3L153 99.9L158 99.7L163 99.6L168 99.8L173 100.3L178 101.2L183 102.6L188 104.3L193 106.3L198 108.6L203 111.0L208 113.5L213 116.4L218 119.6L223 123.3L228 127.3L233 131.6L238 135.9L243 140.2L248 144.5L253 148.8L258 152.9L263 156.8L268 160.6L273 164.1L278 167.5L283 170.6L288 173.4L293 176.0L298 178.4L303 180.7L308 182.7L313 184.6L318 186.5L323 188.2L328 190.0L333 191.6L338 193.3L343 195.0L348 196.7L353 198.4L358 200.1L363 201.8L368 203.4L373 205.0L378 206.4L383 207.8L388 209.1L393 210.2L398 211.2L403 212.0L408 212.6L413 212.9L418 213.0L423 212.8L428 212.5L433 211.9L438 211.3L443 210.6L448 209.8L453 209.1L458 208.2L463 207.3L468 206.4L473 205.4L478 204.3L483 203.2L488 202.0L493 200.7L498 199.3L503 197.8L508 196.3L513 194.7L518 193.0L523 191.2L528 189.3L533 187.3L538 185.2L543 183.0L548 180.7L553 178.3L558 175.7L563 173.0L568 170.2L573 167.3L578 164.3L583 161.2L588 158.2L593 155.2L598 152.3L603 149.4L608 146.7L613 144.1L618 141.6L623 139.1L628 136.6L633 134.2L638 131.8L643 129.4L648 127.0L653 124.5L658 122.0L663 119.5L668 117.1L673 114.7L678 112.6L683 110.6L688 108.8L693 107.2L698 105.6L703 104.3L708 103.0L713 101.8L718 100.8L723 99.8L728 98.9L733 98.1L738 97.4L743 96.8L748 96.3L753 95.8L758 95.4L763 95.0L768 94.7L773 94.4L778 94.3L783 94.2L788 94.3L793 94.6L798 95.1L803 95.8L808 96.6L813 97.5L818 98.5L823 99.7L828 101.0L833 102.4L838 104.1L843 105.9L848 108.0L853 110.4L858 113.1L863 116.0L868 119.0L873 122.2L882 128.0L882 159.0L873 156.6L868 155.5L863 154.8L858 154.7L853 154.9L848 155.3L843 155.7L838 156.1L833 156.1L828 156.1L823 156.3L818 156.6L813 156.7L808 156.7L803 156.5L798 156.1L793 155.6L788 155.3L783 155.2L778 155.2L773 155.3L768 155.6L763 155.9L758 156.2L753 156.6L748 157.0L743 157.5L738 158.0L733 158.7L728 159.4L723 160.2L718 161.1L713 162.1L708 163.1L703 164.3L698 165.6L693 166.9L688 168.3L683 169.8L678 171.3L673 173.0L668 174.8L663 176.6L658 178.4L653 180.3L648 182.0L643 183.7L638 185.4L633 187.0L628 188.6L623 190.3L618 192.0L613 193.8L608 195.7L603 197.7L598 199.9L593 202.1L588 204.5L583 206.8L578 209.1L573 211.4L568 213.6L563 215.7L558 217.6L553 219.5L548 221.2L543 222.8L538 224.3L533 225.7L528 227.0L523 228.1L518 229.2L513 230.1L508 230.9L503 231.6L498 232.3L493 232.9L488 233.5L483 234.1L478 234.8L473 235.4L468 236.2L463 236.8L458 237.5L453 238.1L448 238.6L443 239.2L438 239.7L433 240.2L428 240.6L423 240.9L418 241.0L413 240.9L408 240.5L403 239.9L398 239.1L393 238.1L388 236.9L383 235.6L378 234.3L373 232.8L368 231.3L363 229.7L358 228.2L353 226.6L348 225.0L343 223.5L338 222.0L333 220.5L328 219.1L323 217.7L318 216.2L313 214.7L308 213.1L303 211.4L298 209.6L293 207.9L288 206.2L283 204.4L278 202.6L273 200.7L268 198.7L263 196.4L258 194.0L253 191.3L248 188.4L243 185.2L238 181.9L233 178.3L228 174.5L223 170.8L218 167.5L213 164.6L208 162.1L203 159.8L198 157.7L193 155.7L188 153.9L183 152.3L178 151.1L173 150.3L168 149.9L163 149.7L158 149.8L153 150.0L148 150.2L143 150.4L138 150.6L133 150.9L128 151.2L123 151.7L118 152.3L113 153.0L108 153.8L103 154.7L98 155.7L93 156.7L88 157.8L83 158.9L78 160.1L73 161.5L68 163.1L63 164.8L58 166.6L53 168.5L48 170.3L43 172.0L38 173.5L33 175.1L28 176.8L23 178.7L18 180.9L13 183.3L8 185.9L3 188.7L-2 191.5L-7 194.4L-12 197.0Z" fill-opacity="0.143"/>
<path d="M-12 174.0L-7 171.0L-2 167.7L3 164.3L8 160.8L13 157.2L18 153.7L23 150.3L28 147.1L33 144.1L38 141.3L43 138.5L48 135.7L53 132.9L58 130.0L63 127.1L68 124.2L73 121.5L78 119.0L83 116.8L88 114.7L93 112.8L98 111.0L103 109.3L108 107.8L113 106.3L118 105.0L123 103.8L128 102.8L133 102.0L138 101.3L143 100.7L148 100.3L153 99.9L158 99.7L163 99.6L168 99.8L173 100.3L178 101.2L183 102.6L188 104.3L193 106.3L198 108.6L203 111.0L208 113.5L213 116.4L218 119.6L223 123.3L228 127.3L233 131.6L238 135.9L243 140.2L248 144.5L253 148.8L258 152.9L263 156.8L268 160.6L273 164.1L278 167.5L283 170.6L288 173.4L293 176.0L298 178.4L303 180.7L308 182.7L313 184.6L318 186.5L323 188.2L328 190.0L333 191.6L338 193.3L343 195.0L348 196.7L353 198.4L358 200.1L363 201.8L368 203.4L373 205.0L378 206.4L383 207.8L388 209.1L393 210.2L398 211.2L403 212.0L408 212.6L413 212.9L418 213.0L423 212.8L428 212.5L433 211.9L438 211.3L443 210.6L448 209.8L453 209.1L458 208.2L463 207.3L468 206.4L473 205.4L478 204.3L483 203.2L488 202.0L493 200.7L498 199.3L503 197.8L508 196.3L513 194.7L518 193.0L523 191.2L528 189.3L533 187.3L538 185.2L543 183.0L548 180.7L553 178.3L558 175.7L563 173.0L568 170.2L573 167.3L578 164.3L583 161.2L588 158.2L593 155.2L598 152.3L603 149.4L608 146.7L613 144.1L618 141.6L623 139.1L628 136.6L633 134.2L638 131.8L643 129.4L648 127.0L653 124.5L658 122.0L663 119.5L668 117.1L673 114.7L678 112.6L683 110.6L688 108.8L693 107.2L698 105.6L703 104.3L708 103.0L713 101.8L718 100.8L723 99.8L728 98.9L733 98.1L738 97.4L743 96.8L748 96.3L753 95.8L758 95.4L763 95.0L768 94.7L773 94.4L778 94.3L783 94.2L788 94.3L793 94.6L798 95.1L803 95.8L808 96.6L813 97.5L818 98.5L823 99.7L828 101.0L833 102.4L838 104.1L843 105.9L848 108.0L853 110.4L858 113.1L863 116.0L868 119.0L873 122.2L882 128.0L882 157.1L873 154.5L868 153.3L863 152.5L858 152.2L853 152.2L848 152.4L843 152.7L838 152.8L833 152.7L828 152.7L823 152.7L818 152.8L813 152.9L808 152.8L803 152.6L798 152.1L793 151.6L788 151.3L783 151.2L778 151.2L773 151.3L768 151.6L763 151.9L758 152.2L753 152.6L748 153.0L743 153.5L738 154.0L733 154.7L728 155.4L723 156.2L718 157.1L713 158.1L708 159.1L703 160.3L698 161.6L693 162.9L688 164.3L683 165.8L678 167.4L673 169.1L668 170.9L663 172.8L658 174.7L653 176.5L648 178.4L643 180.1L638 181.8L633 183.5L628 185.2L623 186.9L618 188.7L613 190.5L608 192.5L603 194.5L598 196.8L593 199.1L588 201.4L583 203.8L578 206.2L573 208.5L568 210.8L563 212.9L558 214.9L553 216.8L548 218.6L543 220.3L538 221.8L533 223.2L528 224.6L523 225.8L518 226.9L513 227.9L508 228.8L503 229.6L498 230.3L493 231.0L488 231.6L483 232.3L478 233.0L473 233.7L468 234.5L463 235.2L458 235.8L453 236.4L448 237.0L443 237.6L438 238.1L433 238.6L428 239.1L423 239.3L418 239.4L413 239.3L408 238.9L403 238.3L398 237.4L393 236.4L388 235.3L383 234.0L378 232.6L373 231.1L368 229.6L363 228.0L358 226.4L353 224.8L348 223.3L343 221.7L338 220.2L333 218.7L328 217.2L323 215.7L318 214.2L313 212.7L308 211.1L303 209.3L298 207.5L293 205.6L288 203.8L283 202.0L278 200.1L273 198.1L268 195.9L263 193.5L258 190.9L253 188.1L248 185.1L243 181.9L238 178.4L233 174.7L228 170.9L223 167.2L218 163.8L213 160.9L208 158.3L203 156.0L198 153.8L193 151.7L188 149.9L183 148.3L178 147.0L173 146.2L168 145.7L163 145.5L158 145.5L153 145.7L148 145.9L143 146.1L138 146.3L133 146.6L128 147.0L123 147.5L118 148.1L113 148.8L108 149.6L103 150.6L98 151.6L93 152.6L88 153.7L83 154.8L78 156.0L73 157.5L68 159.1L63 160.8L58 162.7L53 164.6L48 166.5L43 168.2L38 169.9L33 171.6L28 173.4L23 175.4L18 177.7L13 180.2L8 182.9L3 185.8L-2 188.7L-7 191.6L-12 194.3Z" fill-opacity="0.167"/>
<path d="M-12 174.0L-7 171.0L-2 167.7L3 164.3L8 160.8L13 157.2L18 153.7L23 150.3L28 147.1L33 144.1L38 141.3L43 138.5L48 135.7L53 132.9L58 130.0L63 127.1L68 124.2L73 121.5L78 119.0L83 116.8L88 114.7L93 112.8L98 111.0L103 109.3L108 107.8L113 106.3L118 105.0L123 103.8L128 102.8L133 102.0L138 101.3L143 100.7L148 100.3L153 99.9L158 99.7L163 99.6L168 99.8L173 100.3L178 101.2L183 102.6L188 104.3L193 106.3L198 108.6L203 111.0L208 113.5L213 116.4L218 119.6L223 123.3L228 127.3L233 131.6L238 135.9L243 140.2L248 144.5L253 148.8L258 152.9L263 156.8L268 160.6L273 164.1L278 167.5L283 170.6L288 173.4L293 176.0L298 178.4L303 180.7L308 182.7L313 184.6L318 186.5L323 188.2L328 190.0L333 191.6L338 193.3L343 195.0L348 196.7L353 198.4L358 200.1L363 201.8L368 203.4L373 205.0L378 206.4L383 207.8L388 209.1L393 210.2L398 211.2L403 212.0L408 212.6L413 212.9L418 213.0L423 212.8L428 212.5L433 211.9L438 211.3L443 210.6L448 209.8L453 209.1L458 208.2L463 207.3L468 206.4L473 205.4L478 204.3L483 203.2L488 202.0L493 200.7L498 199.3L503 197.8L508 196.3L513 194.7L518 193.0L523 191.2L528 189.3L533 187.3L538 185.2L543 183.0L548 180.7L553 178.3L558 175.7L563 173.0L568 170.2L573 167.3L578 164.3L583 161.2L588 158.2L593 155.2L598 152.3L603 149.4L608 146.7L613 144.1L618 141.6L623 139.1L628 136.6L633 134.2L638 131.8L643 129.4L648 127.0L653 124.5L658 122.0L663 119.5L668 117.1L673 114.7L678 112.6L683 110.6L688 108.8L693 107.2L698 105.6L703 104.3L708 103.0L713 101.8L718 100.8L723 99.8L728 98.9L733 98.1L738 97.4L743 96.8L748 96.3L753 95.8L758 95.4L763 95.0L768 94.7L773 94.4L778 94.3L783 94.2L788 94.3L793 94.6L798 95.1L803 95.8L808 96.6L813 97.5L818 98.5L823 99.7L828 101.0L833 102.4L838 104.1L843 105.9L848 108.0L853 110.4L858 113.1L863 116.0L868 119.0L873 122.2L882 128.0L882 155.3L873 152.4L868 151.1L863 150.1L858 149.6L853 149.5L848 149.5L843 149.6L838 149.6L833 149.4L828 149.2L823 149.1L818 149.1L813 149.0L808 148.9L803 148.6L798 148.1L793 147.6L788 147.3L783 147.2L778 147.2L773 147.3L768 147.6L763 147.9L758 148.2L753 148.6L748 149.0L743 149.5L738 150.0L733 150.7L728 151.4L723 152.2L718 153.1L713 154.1L708 155.1L703 156.3L698 157.6L693 158.9L688 160.4L683 161.9L678 163.5L673 165.2L668 167.1L663 169.0L658 170.9L653 172.8L648 174.7L643 176.5L638 178.3L633 180.0L628 181.7L623 183.5L618 185.3L613 187.2L608 189.2L603 191.4L598 193.7L593 196.0L588 198.4L583 200.9L578 203.3L573 205.7L568 208.0L563 210.2L558 212.2L553 214.2L548 216.0L543 217.7L538 219.3L533 220.8L528 222.2L523 223.5L518 224.7L513 225.7L508 226.7L503 227.5L498 228.3L493 229.1L488 229.8L483 230.5L478 231.3L473 232.0L468 232.8L463 233.5L458 234.2L453 234.8L448 235.4L443 236.0L438 236.5L433 237.1L428 237.5L423 237.8L418 237.9L413 237.7L408 237.3L403 236.7L398 235.8L393 234.8L388 233.6L383 232.3L378 230.9L373 229.5L368 227.9L363 226.3L358 224.7L353 223.1L348 221.5L343 219.9L338 218.4L333 216.8L328 215.3L323 213.8L318 212.3L313 210.7L308 209.0L303 207.2L298 205.3L293 203.4L288 201.5L283 199.6L278 197.5L273 195.4L268 193.1L263 190.6L258 187.9L253 185.0L248 181.8L243 178.5L238 174.9L233 171.2L228 167.3L223 163.5L218 160.1L213 157.1L208 154.5L203 152.1L198 149.8L193 147.7L188 145.8L183 144.2L178 142.9L173 142.0L168 141.5L163 141.3L158 141.3L153 141.4L148 141.6L143 141.8L138 142.0L133 142.3L128 142.7L123 143.2L118 143.9L113 144.6L108 145.5L103 146.4L98 147.5L93 148.5L88 149.6L83 150.7L78 152.0L73 153.4L68 155.1L63 156.8L58 158.7L53 160.7L48 162.6L43 164.5L38 166.2L33 168.0L28 169.9L23 172.1L18 174.5L13 177.1L8 179.9L3 182.9L-2 185.9L-7 188.8L-12 191.6Z" fill-opacity="0.200"/>
<path d="M-12 174.0L-7 171.0L-2 167.7L3 164.3L8 160.8L13 157.2L18 153.7L23 150.3L28 147.1L33 144.1L38 141.3L43 138.5L48 135.7L53 132.9L58 130.0L63 127.1L68 124.2L73 121.5L78 119.0L83 116.8L88 114.7L93 112.8L98 111.0L103 109.3L108 107.8L113 106.3L118 105.0L123 103.8L128 102.8L133 102.0L138 101.3L143 100.7L148 100.3L153 99.9L158 99.7L163 99.6L168 99.8L173 100.3L178 101.2L183 102.6L188 104.3L193 106.3L198 108.6L203 111.0L208 113.5L213 116.4L218 119.6L223 123.3L228 127.3L233 131.6L238 135.9L243 140.2L248 144.5L253 148.8L258 152.9L263 156.8L268 160.6L273 164.1L278 167.5L283 170.6L288 173.4L293 176.0L298 178.4L303 180.7L308 182.7L313 184.6L318 186.5L323 188.2L328 190.0L333 191.6L338 193.3L343 195.0L348 196.7L353 198.4L358 200.1L363 201.8L368 203.4L373 205.0L378 206.4L383 207.8L388 209.1L393 210.2L398 211.2L403 212.0L408 212.6L413 212.9L418 213.0L423 212.8L428 212.5L433 211.9L438 211.3L443 210.6L448 209.8L453 209.1L458 208.2L463 207.3L468 206.4L473 205.4L478 204.3L483 203.2L488 202.0L493 200.7L498 199.3L503 197.8L508 196.3L513 194.7L518 193.0L523 191.2L528 189.3L533 187.3L538 185.2L543 183.0L548 180.7L553 178.3L558 175.7L563 173.0L568 170.2L573 167.3L578 164.3L583 161.2L588 158.2L593 155.2L598 152.3L603 149.4L608 146.7L613 144.1L618 141.6L623 139.1L628 136.6L633 134.2L638 131.8L643 129.4L648 127.0L653 124.5L658 122.0L663 119.5L668 117.1L673 114.7L678 112.6L683 110.6L688 108.8L693 107.2L698 105.6L703 104.3L708 103.0L713 101.8L718 100.8L723 99.8L728 98.9L733 98.1L738 97.4L743 96.8L748 96.3L753 95.8L758 95.4L763 95.0L768 94.7L773 94.4L778 94.3L783 94.2L788 94.3L793 94.6L798 95.1L803 95.8L808 96.6L813 97.5L818 98.5L823 99.7L828 101.0L833 102.4L838 104.1L843 105.9L848 108.0L853 110.4L858 113.1L863 116.0L868 119.0L873 122.2L882 128.0L882 153.4L873 150.3L868 148.9L863 147.8L858 147.1L853 146.7L848 146.6L843 146.6L838 146.4L833 146.0L828 145.7L823 145.5L818 145.4L813 145.2L808 144.9L803 144.6L798 144.1L793 143.6L788 143.3L783 143.2L778 143.2L773 143.3L768 143.6L763 143.9L758 144.2L753 144.6L748 145.0L743 145.5L738 146.0L733 146.7L728 147.4L723 148.2L718 149.1L713 150.1L708 151.1L703 152.3L698 153.6L693 155.0L688 156.4L683 157.9L678 159.5L673 161.3L668 163.2L663 165.2L658 167.1L653 169.1L648 171.0L643 172.9L638 174.7L633 176.5L628 178.3L623 180.1L618 182.0L613 184.0L608 186.0L603 188.2L598 190.5L593 192.9L588 195.4L583 197.9L578 200.4L573 202.8L568 205.2L563 207.4L558 209.5L553 211.5L548 213.4L543 215.2L538 216.8L533 218.4L528 219.9L523 221.2L518 222.4L513 223.5L508 224.5L503 225.5L498 226.3L493 227.2L488 228.0L483 228.7L478 229.5L473 230.3L468 231.1L463 231.8L458 232.5L453 233.2L448 233.8L443 234.4L438 235.0L433 235.5L428 235.9L423 236.2L418 236.3L413 236.1L408 235.7L403 235.1L398 234.2L393 233.2L388 232.0L383 230.7L378 229.3L373 227.8L368 226.2L363 224.6L358 223.0L353 221.4L348 219.7L343 218.1L338 216.6L333 215.0L328 213.5L323 211.9L318 210.3L313 208.7L308 206.9L303 205.1L298 203.1L293 201.2L288 199.2L283 197.2L278 195.0L273 192.7L268 190.3L263 187.7L258 184.9L253 181.8L248 178.6L243 175.1L238 171.5L233 167.7L228 163.7L223 159.9L218 156.4L213 153.3L208 150.6L203 148.2L198 145.9L193 143.7L188 141.8L183 140.1L178 138.7L173 137.8L168 137.3L163 137.0L158 137.0L153 137.1L148 137.3L143 137.5L138 137.7L133 138.0L128 138.4L123 139.0L118 139.6L113 140.4L108 141.3L103 142.3L98 143.3L93 144.4L88 145.4L83 146.6L78 147.9L73 149.4L68 151.0L63 152.8L58 154.8L53 156.8L48 158.8L43 160.7L38 162.6L33 164.5L28 166.5L23 168.8L18 171.3L13 174.0L8 176.9L3 179.9L-2 183.1L-7 186.1L-12 188.9Z" fill-opacity="0.250"/>
<path d="M-12 174.0L-7 171.0L-2 167.7L3 164.3L8 160.8L13 157.2L18 153.7L23 150.3L28 147.1L33 144.1L38 141.3L43 138.5L48 135.7L53 132.9L58 130.0L63 127.1L68 124.2L73 121.5L78 119.0L83 116.8L88 114.7L93 112.8L98 111.0L103 109.3L108 107.8L113 106.3L118 105.0L123 103.8L128 102.8L133 102.0L138 101.3L143 100.7L148 100.3L153 99.9L158 99.7L163 99.6L168 99.8L173 100.3L178 101.2L183 102.6L188 104.3L193 106.3L198 108.6L203 111.0L208 113.5L213 116.4L218 119.6L223 123.3L228 127.3L233 131.6L238 135.9L243 140.2L248 144.5L253 148.8L258 152.9L263 156.8L268 160.6L273 164.1L278 167.5L283 170.6L288 173.4L293 176.0L298 178.4L303 180.7L308 182.7L313 184.6L318 186.5L323 188.2L328 190.0L333 191.6L338 193.3L343 195.0L348 196.7L353 198.4L358 200.1L363 201.8L368 203.4L373 205.0L378 206.4L383 207.8L388 209.1L393 210.2L398 211.2L403 212.0L408 212.6L413 212.9L418 213.0L423 212.8L428 212.5L433 211.9L438 211.3L443 210.6L448 209.8L453 209.1L458 208.2L463 207.3L468 206.4L473 205.4L478 204.3L483 203.2L488 202.0L493 200.7L498 199.3L503 197.8L508 196.3L513 194.7L518 193.0L523 191.2L528 189.3L533 187.3L538 185.2L543 183.0L548 180.7L553 178.3L558 175.7L563 173.0L568 170.2L573 167.3L578 164.3L583 161.2L588 158.2L593 155.2L598 152.3L603 149.4L608 146.7L613 144.1L618 141.6L623 139.1L628 136.6L633 134.2L638 131.8L643 129.4L648 127.0L653 124.5L658 122.0L663 119.5L668 117.1L673 114.7L678 112.6L683 110.6L688 108.8L693 107.2L698 105.6L703 104.3L708 103.0L713 101.8L718 100.8L723 99.8L728 98.9L733 98.1L738 97.4L743 96.8L748 96.3L753 95.8L758 95.4L763 95.0L768 94.7L773 94.4L778 94.3L783 94.2L788 94.3L793 94.6L798 95.1L803 95.8L808 96.6L813 97.5L818 98.5L823 99.7L828 101.0L833 102.4L838 104.1L843 105.9L848 108.0L853 110.4L858 113.1L863 116.0L868 119.0L873 122.2L882 128.0L882 151.6L873 148.3L868 146.6L863 145.4L858 144.6L853 144.0L848 143.7L843 143.5L838 143.2L833 142.7L828 142.3L823 141.9L818 141.7L813 141.4L808 141.0L803 140.6L798 140.1L793 139.6L788 139.3L783 139.2L778 139.2L773 139.3L768 139.6L763 139.9L758 140.2L753 140.6L748 141.0L743 141.5L738 142.0L733 142.7L728 143.4L723 144.2L718 145.1L713 146.1L708 147.1L703 148.3L698 149.6L693 151.0L688 152.4L683 153.9L678 155.6L673 157.4L668 159.3L663 161.3L658 163.4L653 165.4L648 167.4L643 169.3L638 171.2L633 173.0L628 174.9L623 176.8L618 178.7L613 180.7L608 182.8L603 185.1L598 187.4L593 189.9L588 192.4L583 194.9L578 197.4L573 199.9L568 202.3L563 204.7L558 206.8L553 208.9L548 210.8L543 212.7L538 214.4L533 216.0L528 217.5L523 218.9L518 220.2L513 221.4L508 222.4L503 223.4L498 224.4L493 225.3L488 226.1L483 226.9L478 227.8L473 228.6L468 229.4L463 230.1L458 230.9L453 231.5L448 232.2L443 232.8L438 233.4L433 233.9L428 234.3L423 234.6L418 234.7L413 234.6L408 234.1L403 233.5L398 232.6L393 231.6L388 230.4L383 229.0L378 227.6L373 226.1L368 224.5L363 222.9L358 221.3L353 219.6L348 218.0L343 216.4L338 214.7L333 213.2L328 211.6L323 210.0L318 208.4L313 206.7L308 204.9L303 203.0L298 201.0L293 198.9L288 196.9L283 194.7L278 192.5L273 190.1L268 187.5L263 184.8L258 181.9L253 178.7L248 175.3L243 171.8L238 168.0L233 164.1L228 160.1L223 156.2L218 152.7L213 149.6L208 146.8L203 144.3L198 142.0L193 139.7L188 137.7L183 136.0L178 134.6L173 133.6L168 133.1L163 132.8L158 132.7L153 132.8L148 133.0L143 133.2L138 133.4L133 133.8L128 134.2L123 134.7L118 135.4L113 136.2L108 137.1L103 138.1L98 139.2L93 140.3L88 141.3L83 142.5L78 143.8L73 145.3L68 147.0L63 148.9L58 150.8L53 152.9L48 155.0L43 157.0L38 158.9L33 160.9L28 163.1L23 165.4L18 168.1L13 170.9L8 173.9L3 177.0L-2 180.2L-7 183.3L-12 186.1Z" fill-opacity="0.333"/>
<path d="M-12 174.0L-7 171.0L-2 167.7L3 164.3L8 160.8L13 157.2L18 153.7L23 150.3L28 147.1L33 144.1L38 141.3L43 138.5L48 135.7L53 132.9L58 130.0L63 127.1L68 124.2L73 121.5L78 119.0L83 116.8L88 114.7L93 112.8L98 111.0L103 109.3L108 107.8L113 106.3L118 105.0L123 103.8L128 102.8L133 102.0L138 101.3L143 100.7L148 100.3L153 99.9L158 99.7L163 99.6L168 99.8L173 100.3L178 101.2L183 102.6L188 104.3L193 106.3L198 108.6L203 111.0L208 113.5L213 116.4L218 119.6L223 123.3L228 127.3L233 131.6L238 135.9L243 140.2L248 144.5L253 148.8L258 152.9L263 156.8L268 160.6L273 164.1L278 167.5L283 170.6L288 173.4L293 176.0L298 178.4L303 180.7L308 182.7L313 184.6L318 186.5L323 188.2L328 190.0L333 191.6L338 193.3L343 195.0L348 196.7L353 198.4L358 200.1L363 201.8L368 203.4L373 205.0L378 206.4L383 207.8L388 209.1L393 210.2L398 211.2L403 212.0L408 212.6L413 212.9L418 213.0L423 212.8L428 212.5L433 211.9L438 211.3L443 210.6L448 209.8L453 209.1L458 208.2L463 207.3L468 206.4L473 205.4L478 204.3L483 203.2L488 202.0L493 200.7L498 199.3L503 197.8L508 196.3L513 194.7L518 193.0L523 191.2L528 189.3L533 187.3L538 185.2L543 183.0L548 180.7L553 178.3L558 175.7L563 173.0L568 170.2L573 167.3L578 164.3L583 161.2L588 158.2L593 155.2L598 152.3L603 149.4L608 146.7L613 144.1L618 141.6L623 139.1L628 136.6L633 134.2L638 131.8L643 129.4L648 127.0L653 124.5L658 122.0L663 119.5L668 117.1L673 114.7L678 112.6L683 110.6L688 108.8L693 107.2L698 105.6L703 104.3L708 103.0L713 101.8L718 100.8L723 99.8L728 98.9L733 98.1L738 97.4L743 96.8L748 96.3L753 95.8L758 95.4L763 95.0L768 94.7L773 94.4L778 94.3L783 94.2L788 94.3L793 94.6L798 95.1L803 95.8L808 96.6L813 97.5L818 98.5L823 99.7L828 101.0L833 102.4L838 104.1L843 105.9L848 108.0L853 110.4L858 113.1L863 116.0L868 119.0L873 122.2L882 128.0L882 149.7L873 146.2L868 144.4L863 143.0L858 142.0L853 141.3L848 140.9L843 140.5L838 140.0L833 139.4L828 138.8L823 138.3L818 137.9L813 137.5L808 137.1L803 136.6L798 136.1L793 135.6L788 135.3L783 135.2L778 135.2L773 135.3L768 135.6L763 135.9L758 136.2L753 136.6L748 137.0L743 137.5L738 138.0L733 138.7L728 139.4L723 140.2L718 141.1L713 142.1L708 143.1L703 144.3L698 145.6L693 147.0L688 148.4L683 150.0L678 151.7L673 153.5L668 155.5L663 157.5L658 159.6L653 161.7L648 163.7L643 165.7L638 167.6L633 169.5L628 171.4L623 173.4L618 175.4L613 177.4L608 179.6L603 181.9L598 184.3L593 186.8L588 189.4L583 192.0L578 194.5L573 197.1L568 199.5L563 201.9L558 204.1L553 206.2L548 208.2L543 210.1L538 211.9L533 213.5L528 215.1L523 216.6L518 217.9L513 219.2L508 220.3L503 221.4L498 222.4L493 223.4L488 224.3L483 225.1L478 226.0L473 226.9L468 227.7L463 228.5L458 229.2L453 229.9L448 230.6L443 231.2L438 231.8L433 232.3L428 232.8L423 233.1L418 233.2L413 233.0L408 232.5L403 231.9L398 231.0L393 229.9L388 228.7L383 227.4L378 225.9L373 224.4L368 222.8L363 221.2L358 219.6L353 217.9L348 216.2L343 214.6L338 212.9L333 211.3L328 209.7L323 208.1L318 206.4L313 204.7L308 202.8L303 200.9L298 198.8L293 196.7L288 194.5L283 192.3L278 189.9L273 187.4L268 184.8L263 181.9L258 178.8L253 175.6L248 172.1L243 168.4L238 164.6L233 160.6L228 156.5L223 152.5L218 148.9L213 145.8L208 143.0L203 140.4L198 138.0L193 135.7L188 133.7L183 131.9L178 130.5L173 129.5L168 128.8L163 128.5L158 128.5L153 128.5L148 128.7L143 128.9L138 129.1L133 129.5L128 129.9L123 130.5L118 131.2L113 132.0L108 132.9L103 134.0L98 135.1L93 136.1L88 137.2L83 138.4L78 139.7L73 141.3L68 143.0L63 144.9L58 146.9L53 149.0L48 151.1L43 153.2L38 155.3L33 157.4L28 159.6L23 162.1L18 164.8L13 167.8L8 170.9L3 174.1L-2 177.4L-7 180.5L-12 183.4Z" fill-opacity="0.500"/>
<path d="M-12 174.0L-7 171.0L-2 167.7L3 164.3L8 160.8L13 157.2L18 153.7L23 150.3L28 147.1L33 144.1L38 141.3L43 138.5L48 135.7L53 132.9L58 130.0L63 127.1L68 124.2L73 121.5L78 119.0L83 116.8L88 114.7L93 112.8L98 111.0L103 109.3L108 107.8L113 106.3L118 105.0L123 103.8L128 102.8L133 102.0L138 101.3L143 100.7L148 100.3L153 99.9L158 99.7L163 99.6L168 99.8L173 100.3L178 101.2L183 102.6L188 104.3L193 106.3L198 108.6L203 111.0L208 113.5L213 116.4L218 119.6L223 123.3L228 127.3L233 131.6L238 135.9L243 140.2L248 144.5L253 148.8L258 152.9L263 156.8L268 160.6L273 164.1L278 167.5L283 170.6L288 173.4L293 176.0L298 178.4L303 180.7L308 182.7L313 184.6L318 186.5L323 188.2L328 190.0L333 191.6L338 193.3L343 195.0L348 196.7L353 198.4L358 200.1L363 201.8L368 203.4L373 205.0L378 206.4L383 207.8L388 209.1L393 210.2L398 211.2L403 212.0L408 212.6L413 212.9L418 213.0L423 212.8L428 212.5L433 211.9L438 211.3L443 210.6L448 209.8L453 209.1L458 208.2L463 207.3L468 206.4L473 205.4L478 204.3L483 203.2L488 202.0L493 200.7L498 199.3L503 197.8L508 196.3L513 194.7L518 193.0L523 191.2L528 189.3L533 187.3L538 185.2L543 183.0L548 180.7L553 178.3L558 175.7L563 173.0L568 170.2L573 167.3L578 164.3L583 161.2L588 158.2L593 155.2L598 152.3L603 149.4L608 146.7L613 144.1L618 141.6L623 139.1L628 136.6L633 134.2L638 131.8L643 129.4L648 127.0L653 124.5L658 122.0L663 119.5L668 117.1L673 114.7L678 112.6L683 110.6L688 108.8L693 107.2L698 105.6L703 104.3L708 103.0L713 101.8L718 100.8L723 99.8L728 98.9L733 98.1L738 97.4L743 96.8L748 96.3L753 95.8L758 95.4L763 95.0L768 94.7L773 94.4L778 94.3L783 94.2L788 94.3L793 94.6L798 95.1L803 95.8L808 96.6L813 97.5L818 98.5L823 99.7L828 101.0L833 102.4L838 104.1L843 105.9L848 108.0L853 110.4L858 113.1L863 116.0L868 119.0L873 122.2L882 128.0L882 147.9L873 144.1L868 142.2L863 140.7L858 139.5L853 138.6L848 138.0L843 137.4L838 136.8L833 136.0L828 135.3L823 134.7L818 134.2L813 133.7L808 133.2L803 132.7L798 132.1L793 131.6L788 131.3L783 131.2L778 131.2L773 131.3L768 131.6L763 131.8L758 132.2L753 132.6L748 133.0L743 133.5L738 134.0L733 134.7L728 135.4L723 136.2L718 137.1L713 138.1L708 139.1L703 140.3L698 141.6L693 143.0L688 144.5L683 146.0L678 147.8L673 149.6L668 151.6L663 153.7L658 155.8L653 158.0L648 160.0L643 162.1L638 164.1L633 166.0L628 168.0L623 170.0L618 172.1L613 174.2L608 176.4L603 178.7L598 181.2L593 183.8L588 186.4L583 189.0L578 191.6L573 194.2L568 196.7L563 199.1L558 201.4L553 203.6L548 205.6L543 207.6L538 209.4L533 211.1L528 212.7L523 214.3L518 215.7L513 217.0L508 218.2L503 219.4L498 220.4L493 221.5L488 222.4L483 223.4L478 224.3L473 225.1L468 226.0L463 226.8L458 227.6L453 228.3L448 228.9L443 229.6L438 230.2L433 230.8L428 231.2L423 231.5L418 231.6L413 231.4L408 231.0L403 230.3L398 229.4L393 228.3L388 227.1L383 225.7L378 224.3L373 222.7L368 221.1L363 219.5L358 217.8L353 216.2L348 214.5L343 212.8L338 211.1L333 209.5L328 207.8L323 206.2L318 204.4L313 202.7L308 200.8L303 198.8L298 196.6L293 194.5L288 192.2L283 189.9L278 187.4L273 184.8L268 182.0L263 179.0L258 175.8L253 172.4L248 168.8L243 165.0L238 161.1L233 157.1L228 152.9L223 148.9L218 145.2L213 142.0L208 139.1L203 136.5L198 134.1L193 131.7L188 129.6L183 127.8L178 126.3L173 125.3L168 124.6L163 124.3L158 124.2L153 124.3L148 124.4L143 124.6L138 124.8L133 125.2L128 125.7L123 126.2L118 127.0L113 127.8L108 128.8L103 129.8L98 130.9L93 132.0L88 133.1L83 134.3L78 135.7L73 137.2L68 139.0L63 140.9L58 142.9L53 145.1L48 147.3L43 149.5L38 151.6L33 153.8L28 156.2L23 158.8L18 161.6L13 164.7L8 167.9L3 171.2L-2 174.6L-7 177.8L-12 180.7Z" fill-opacity="1.000"/>
</g></g></g>
<path d="M126 272L126.00 179.00A93 93 0 0 1 137.66 179.73Z" fill="#1FA38F" stroke="#fff" stroke-width="1.1" stroke-linejoin="round"/>
<path d="M126 272L137.66 179.73A93 93 0 0 1 193.79 335.66Z" fill="#1A7D72" stroke="#fff" stroke-width="1.1" stroke-linejoin="round"/>
<path d="M126 272L193.79 335.66A93 93 0 0 1 33.73 283.66Z" fill="#155F40" stroke="#fff" stroke-width="1.1" stroke-linejoin="round"/>
<path d="M126 272L33.73 283.66A93 93 0 0 1 126.00 179.00Z" fill="#1F8430" stroke="#fff" stroke-width="1.1" stroke-linejoin="round"/>
<path d="M336.5 271.5L336.50 178.50A93 93 0 0 1 347.00 179.09Z" fill="#0B4A9C" stroke="#fff" stroke-width="1.1" stroke-linejoin="round"/>
<path d="M336.5 271.5L347.00 179.09A93 93 0 0 1 400.59 338.89Z" fill="#1F6AC2" stroke="#fff" stroke-width="1.1" stroke-linejoin="round"/>
<path d="M336.5 271.5L400.59 338.89A93 93 0 0 1 244.16 260.42Z" fill="#4386D4" stroke="#fff" stroke-width="1.1" stroke-linejoin="round"/>
<path d="M336.5 271.5L244.16 260.42A93 93 0 0 1 336.50 178.50Z" fill="#67A9F0" stroke="#fff" stroke-width="1.1" stroke-linejoin="round"/>
<path d="M548 271.5L548.00 178.50A93 93 0 0 1 597.83 192.98Z" fill="#AC3B1B" stroke="#fff" stroke-width="1.1" stroke-linejoin="round"/>
<path d="M548 271.5L597.83 192.98A93 93 0 1 1 466.50 316.30Z" fill="#D65A3E" stroke="#fff" stroke-width="1.1" stroke-linejoin="round"/>
<path d="M548 271.5L466.50 316.30A93 93 0 0 1 498.17 192.98Z" fill="#FB7321" stroke="#fff" stroke-width="1.1" stroke-linejoin="round"/>
<path d="M548 271.5L498.17 192.98A93 93 0 0 1 548.00 178.50Z" fill="#FF8D1F" stroke="#fff" stroke-width="1.1" stroke-linejoin="round"/>
<path d="M752.5 271.5L752.50 178.50A93 93 0 0 1 771.65 180.49Z" fill="#D99B22" stroke="#fff" stroke-width="1.1" stroke-linejoin="round"/>
<path d="M752.5 271.5L771.65 180.49A93 93 0 0 1 737.95 363.36Z" fill="#FFA100" stroke="#fff" stroke-width="1.1" stroke-linejoin="round"/>
<path d="M752.5 271.5L737.95 363.36A93 93 0 0 1 688.41 204.11Z" fill="#FFB43E" stroke="#fff" stroke-width="1.1" stroke-linejoin="round"/>
<path d="M752.5 271.5L688.41 204.11A93 93 0 0 1 752.50 178.50Z" fill="#FFC979" stroke="#fff" stroke-width="1.1" stroke-linejoin="round"/>
<g font-family="Liberation Sans, sans-serif" font-weight="700" fill="#fff" text-anchor="middle" stroke="#fff" stroke-width=".3">
<text transform="translate(91 245.2) scale(.92 1)" font-size="15.4" stroke-width=".45">6+</text><text transform="translate(91 259.7) scale(.9 1)" font-size="10.3">27%</text>
<text transform="translate(170.3 260.9) scale(.92 1)" font-size="15.4" stroke-width=".45">2<tspan dy=".2" font-size="19">-</tspan><tspan dy="-.2">3</tspan></text><text transform="translate(170.3 274.4) scale(.9 1)" font-size="10.3">35%</text>
<text transform="translate(111.5 321.2) scale(.92 1)" font-size="15.4" stroke-width=".45">4<tspan dy=".2" font-size="19">-</tspan><tspan dy="-.2">5</tspan></text><text transform="translate(111.5 334.9) scale(.9 1)" font-size="10.3">36%</text>
<text transform="translate(305 240.6) scale(.92 1)" font-size="15.4" stroke-width=".45">6+</text><text transform="translate(305 255) scale(.9 1)" font-size="10.3">23%</text>
<text transform="translate(380 260.4) scale(.92 1)" font-size="15.4" stroke-width=".45">2<tspan dy=".2" font-size="19">-</tspan><tspan dy="-.2">3</tspan></text><text transform="translate(380 275.5) scale(.9 1)" font-size="10.3">36%</text>
<text transform="translate(314.6 317) scale(.92 1)" font-size="15.4" stroke-width=".45">4<tspan dy=".2" font-size="19">-</tspan><tspan dy="-.2">5</tspan></text><text transform="translate(314.6 331.4) scale(.9 1)" font-size="10.3">40%</text>
<text transform="translate(534.6 231.2) scale(.92 1)" font-size="15.4" stroke-width=".45">6+</text><text transform="translate(534.6 245.4) scale(.9 1)" font-size="10.3">9%</text>
<text transform="translate(560.7 231.2) scale(.92 1)" font-size="15.4" stroke-width=".45">1</text><text transform="translate(560.7 245.4) scale(.9 1)" font-size="10.3">9%</text>
<text transform="translate(502.4 263.5) scale(.92 1)" font-size="15.4" stroke-width=".45">4<tspan dy=".2" font-size="19">-</tspan><tspan dy="-.2">5</tspan></text><text transform="translate(502.4 277.7) scale(.9 1)" font-size="10.3">23%</text>
<text transform="translate(579 310.5) scale(.92 1)" font-size="15.4" stroke-width=".45">2<tspan dy=".2" font-size="19">-</tspan><tspan dy="-.2">3</tspan></text><text transform="translate(579 324.7) scale(.9 1)" font-size="10.3">58%</text>
<text transform="translate(735.5 232.3) scale(.92 1)" font-size="15.4" stroke-width=".45">6+</text><text transform="translate(735.5 247.1) scale(.9 1)" font-size="10.3">12%</text>
<text transform="translate(798.3 283.6) scale(.92 1)" font-size="15.4" stroke-width=".45">2<tspan dy=".2" font-size="19">-</tspan><tspan dy="-.2">3</tspan></text><text transform="translate(798.3 298.4) scale(.9 1)" font-size="10.3">49%</text>
<text transform="translate(708.6 290.2) scale(.92 1)" font-size="15.4" stroke-width=".45">4<tspan dy=".2" font-size="19">-</tspan><tspan dy="-.2">5</tspan></text><text transform="translate(708.6 304.3) scale(.9 1)" font-size="10.3">35%</text>
</g>
</svg>
<div class="bar"></div>
<h1>单一玩家每周游玩的手游数量</h1>
<svg class="logo" style="left:188px;top:46px" viewBox="0 0 60 16"><g fill="#5a5a5a"><circle cx="1.5" cy="3.7" r=".75"/><circle cx="8.1" cy="3.3" r=".9"/><circle cx="5.3" cy="6.1" r="1.15"/><circle cx="10.9" cy="6.1" r=".9"/><circle cx="8.1" cy="8.8" r="1.05"/><circle cx="4.9" cy="11.7" r="1.55"/></g>
<text x="15.8" y="11.4" font-family="Liberation Sans, sans-serif" font-size="9.2" fill="#6c6c6c" textLength="35.8" lengthAdjust="spacingAndGlyphs">MISTPLAY</text>
<text x="53.4" y="6.6" font-family="Liberation Sans, sans-serif" font-size="3" fill="#999">®</text>
</svg>
<div class="cn" style="left:83px;top:372.5px;color:#1E9E8A">美国</div>
<div class="cn" style="left:296px;top:372.5px;color:#174A96">英国</div>
<div class="cn" style="left:508px;top:372.5px;color:#A63A1A">韩国</div>
<div class="cn" style="left:715px;top:372.5px;color:#FFA633">日本</div>
<h2>玩手游的三大动机</h2>
<table>
<colgroup><col style="width:101px"><col style="width:61px"><col style="width:101px"><col style="width:61px"><col style="width:101px"><col style="width:61px"><col style="width:101px"><col style="width:61px"></colgroup>
<thead><tr><th colspan="2">美国</th><th colspan="2">英国</th><th colspan="2">韩国</th><th colspan="2">日本</th></tr></thead>
<tbody>
<tr class="r0"><td class="k">放松</td><td class="v">82%</td><td class="k">放松</td><td class="v">82%</td><td class="k">放松</td><td class="v">79%</td><td class="k">放松</td><td class="v">59%</td></tr>
<tr class="r1"><td class="k">进度推进</td><td class="v">25%</td><td class="k">进度推进</td><td class="v">26%</td><td class="k">进度推进</td><td class="v">21%</td><td class="k">满足幻想</td><td class="v">24%</td></tr>
<tr class="r2"><td class="k">竞技</td><td class="v">16%</td><td class="k">竞技</td><td class="v">14%</td><td class="k">满足幻想</td><td class="v">15%</td><td class="k">探索</td><td class="v">16%</td></tr>
</tbody>
</table>
<svg class="logo" style="left:186.9px;top:575.4px" viewBox="0 0 60 16"><g fill="#5a5a5a"><circle cx="1.5" cy="3.7" r=".75"/><circle cx="8.1" cy="3.3" r=".9"/><circle cx="5.3" cy="6.1" r="1.15"/><circle cx="10.9" cy="6.1" r=".9"/><circle cx="8.1" cy="8.8" r="1.05"/><circle cx="4.9" cy="11.7" r="1.55"/></g>
<text x="15.8" y="11.4" font-family="Liberation Sans, sans-serif" font-size="9.2" fill="#6c6c6c" textLength="35.8" lengthAdjust="spacingAndGlyphs">MISTPLAY</text>
<text x="53.4" y="6.6" font-family="Liberation Sans, sans-serif" font-size="3" fill="#999">®</text>
</svg>
</body>
</html>
